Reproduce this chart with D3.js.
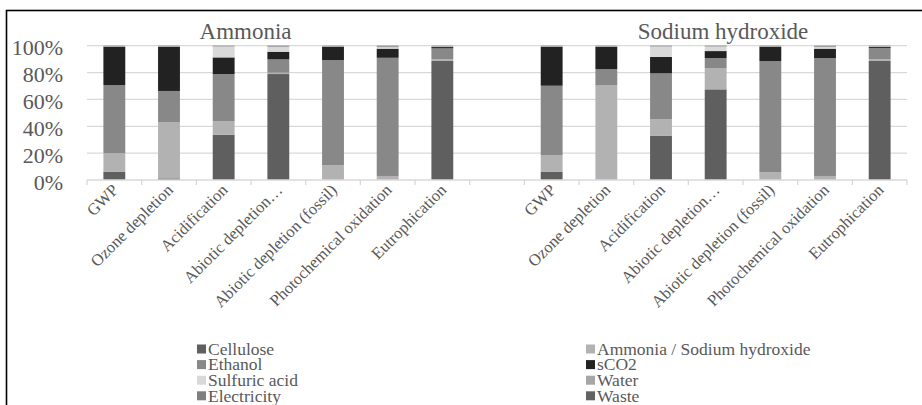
<!DOCTYPE html>
<html><head><meta charset="utf-8">
<script src="https://cdn.jsdelivr.net/npm/d3@7"></script>
<style>
html,body{margin:0;padding:0;background:#fff;}
svg text{font-family:"Liberation Serif","Times New Roman",Times,serif;}
</style></head>
<body><svg id="c" width="922" height="405"></svg>
<script>
// ---- data ----
const impactCategories = ["GWP","Ozone depletion","Acidification","Abiotic depletion…","Abiotic depletion (fossil)","Photochemical oxidation","Eutrophication"];
const panelTitles = ["Ammonia","Sodium hydroxide"];
const seriesNames = ["Cellulose","Ammonia / Sodium hydroxide","Ethanol","sCO2","Sulfuric acid","Water","Electricity","Waste"];
const seriesColors = ["#5f5f5f","#b2b2b2","#888888","#222222","#d9d9d9","#a6a6a6","#7f7f7f","#636363"];
const yTicks = [0,20,40,60,80,100];
// left panel (Ammonia)
const celluloseA   = [6, 1.2, 33.7, 78.9, 0.3, 0.3, 88.6];
const reagentA     = [13.9, 42, 10.2, 1, 10.6, 2.7, 1.2];
const ethanolA     = [50.8, 23.1, 35, 9.9, 78.4, 88, 8.2];
const sco2A        = [28.6, 33, 12.4, 5.7, 10, 6.8, 1];
const sulfuricA    = [0.2, 0.2, 8, 3.5, 0.2, 1, 0.3];
const waterA       = [0.2, 0.2, 0.3, 0.4, 0.2, 0.5, 0.3];
const electricityA = [0.3, 0.3, 0.4, 0.6, 0.3, 0.7, 0.4];
const wasteA       = [0, 0, 0, 0, 0, 0, 0];
// right panel (Sodium hydroxide)
const celluloseS   = [6, 0.3, 32.8, 67.5, 0.3, 0.3, 88.6];
const reagentS     = [12.6, 70.4, 12.6, 15.9, 5.4, 2.7, 1.2];
const ethanolS     = [51.6, 11.9, 34, 7.4, 82.9, 87.8, 8.4];
const sco2S        = [29.1, 16.7, 12.2, 5.2, 10.7, 7, 0.8];
const sulfuricS    = [0.2, 0.2, 7.7, 3.3, 0.2, 1.2, 0.3];
const waterS       = [0.2, 0.2, 0.3, 0.3, 0.2, 0.3, 0.3];
const electricityS = [0.3, 0.3, 0.4, 0.4, 0.3, 0.7, 0.4];
const wasteS       = [0, 0, 0, 0, 0, 0, 0];

const seriesA = [celluloseA,reagentA,ethanolA,sco2A,sulfuricA,waterA,electricityA,wasteA];
const seriesS = [celluloseS,reagentS,ethanolS,sco2S,sulfuricS,waterS,electricityS,wasteS];

// build table: 7 left, 1 gap, 7 right
const rows = [];
impactCategories.forEach((c,i)=>{ const r={key:"A"+i,label:c}; seriesNames.forEach((s,k)=>r[s]=seriesA[k][i]); rows.push(r); });
rows.push(Object.assign({key:"gap",label:""}, Object.fromEntries(seriesNames.map(s=>[s,0]))));
impactCategories.forEach((c,i)=>{ const r={key:"S"+i,label:c}; seriesNames.forEach((s,k)=>r[s]=seriesS[k][i]); rows.push(r); });

const svg = d3.select("#c");
const x = d3.scaleBand().domain(rows.map(r=>r.key)).range([87,907]).padding(0);
const y = d3.scaleLinear().domain([0,100]).range([180,45.7]);
const color = d3.scaleOrdinal().domain(seriesNames).range(seriesColors);

// frame
svg.append("rect").attr("x",6.5).attr("y",10.5).attr("width",1000).attr("height",600)
  .attr("fill","none").attr("stroke","#000").attr("stroke-width",1.6);

// gridlines
svg.append("g").selectAll("line").data(yTicks.filter(d=>d>0)).join("line")
  .attr("x1",87).attr("x2",907).attr("y1",d=>y(d)).attr("y2",d=>y(d))
  .attr("stroke","#d9d9d9").attr("stroke-width",1.3);

// y labels
svg.append("g").selectAll("text").data(yTicks).join("text")
  .attr("x",63).attr("y",d=>y(d)+2).attr("dy","0.35em").attr("text-anchor","end")
  .attr("font-size",22).attr("fill","#595959").text(d=>d+"%");

// bars
const stack = d3.stack().keys(seriesNames);
const stacked = stack(rows);
const bw = x.bandwidth()*0.4;
svg.append("g").selectAll("g").data(stacked).join("g").attr("fill",d=>color(d.key))
  .selectAll("rect").data(d=>d.filter(p=>p.data.key!=="gap")).join("rect")
  .attr("x",d=>x(d.data.key)+x.bandwidth()/2-bw/2).attr("width",bw)
  .attr("y",d=>y(d[1])).attr("height",d=>Math.max(0,y(d[0])-y(d[1])));

// x axis baseline + ticks
const ax = svg.append("g").attr("transform","translate(0,180)");
ax.append("line").attr("x1",87).attr("x2",907).attr("stroke","#d9d9d9").attr("stroke-width",1.3);
const bounds = rows.map(r=>x(r.key)).concat([907]);
ax.selectAll("line.t").data(bounds).join("line").attr("class","t")
  .attr("x1",d=>d).attr("x2",d=>d).attr("y1",0).attr("y2",5).attr("stroke","#d9d9d9").attr("stroke-width",1.3);

// x labels
svg.append("g").selectAll("text").data(rows.filter(r=>r.key!=="gap")).join("text")
  .attr("transform",d=>`translate(${x(d.key)+x.bandwidth()/2+5},${191}) rotate(-45)`)
  .attr("text-anchor","end").attr("font-size",16.5).attr("fill","#595959").text(d=>d.label);

// titles
svg.append("text").attr("x",245.6).attr("y",39).attr("text-anchor","middle").attr("font-size",23).attr("fill","#595959").text(panelTitles[0]);
svg.append("text").attr("x",723).attr("y",39).attr("text-anchor","middle").attr("font-size",23).attr("fill","#595959").text(panelTitles[1]);

// legend: two columns, row-major
const lg = svg.append("g").selectAll("g").data(seriesNames).join("g")
  .attr("transform",(d,i)=>`translate(${i%2===0?197:586},${349+Math.floor(i/2)*15.6})`);
lg.append("rect").attr("x",0).attr("y",-4.5).attr("width",9).attr("height",9).attr("fill",d=>color(d));
lg.append("text").attr("x",11).attr("y",0).attr("dy","0.33em").attr("font-size",17.5).attr("fill","#595959").text(d=>d);
</script></body></html>
